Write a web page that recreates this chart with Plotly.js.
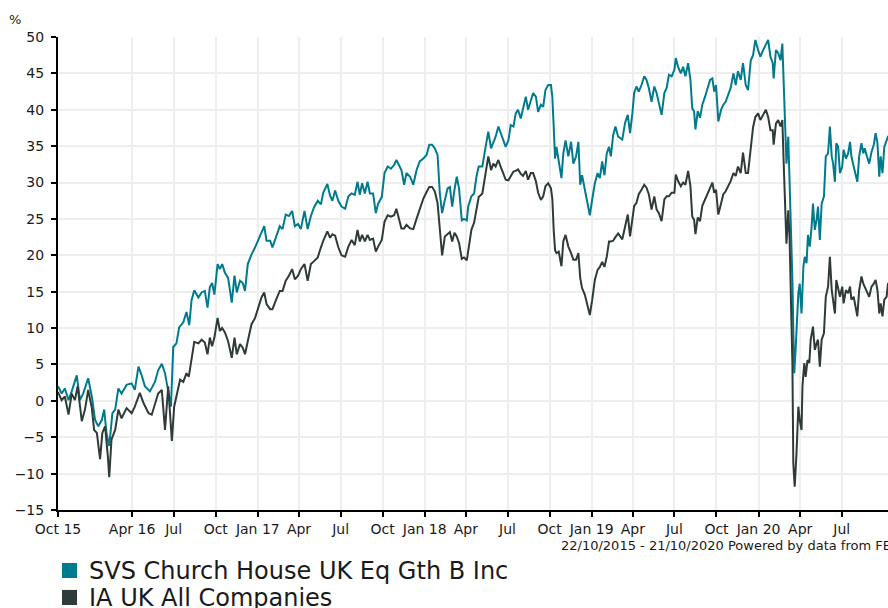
<!DOCTYPE html>
<html>
<head>
<meta charset="utf-8">
<script src="https://cdn.plot.ly/plotly-3.0.1.min.js"></script>
<style>
html, body { margin: 0; padding: 0; overflow: hidden; background: #ffffff; }
#chart { width: 900px; height: 608px; }
</style>
</head>
<body>
<div id="chart"></div>
<script>
// Period of the chart: 22/10/2015 - 21/10/2020, cumulative % growth
const startDate = "2015-10-22";
const endDate = "2020-10-21";

const fundName = "SVS Church House UK Eq Gth B Inc";
const sectorName = "IA UK All Companies";

// Days since 22/10/2015 and cumulative % performance
const fundDays = [0,8,15,23,30,41,48,55,66,74,81,88,96,101,106,112,119,125,132,139,150,161,168,176,183,190,201,212,219,227,234,241,247,252,259,265,274,281,287,292,298,307,
314,321,327,332,337,342,349,354,359,365,372,380,386,391,398,404,409,415,423,431,438,445,451,456,464,469,477,485,491,498,505,512,518,525,531,539,546,553,560,568,575,580,589,595,600,606,613,
620,628,635,642,649,655,660,665,671,677,682,689,695,700,708,714,721,728,735,740,746,751,757,762,770,777,784,791,799,806,812,818,824,830,835,840,846,852,857,862,867,872,877,883,888,894,897,904,910,915,920,
928,934,941,947,952,957,963,969,974,979,985,990,996,1001,1006,1012,1017,1023,1028,1034,1039,1045,1050,1056,1061,1066,1072,1078,1081,1084,1087,1090,1095,1101,1105,1110,1116,1122,1127,1133,1138,1142,1146,1152,1158,1163,1168,1174,1180,1185,1190,1195,1200,1205,1209,1214,1219,1225,
1234,1240,1246,1251,1256,1260,1265,1270,1276,1282,1287,1292,1298,1304,1309,1314,1320,1326,1331,1336,1342,1348,1351,1356,1362,1367,1372,1378,1383,1387,1391,1394,1399,1404,1409,1415,1420,1426,1431,1435,1439,1444,1450,1455,1460,1466,1471,1477,1482,1487,1493,1498,1504,1509,1515,1520,1525,1531,
1536,1542,1548,1553,1558,1563,1565,1570,1575,1580,1584,1586,1589,1593,1597,1600,1604,1606,1608,1610,1613,1616,1619,1622,1626,1630,1633,1637,1640,1644,1648,1651,1655,1659,1662,1666,1670,1675,1679,1684,1688,1692,1695,1699,1702,1706,1710,1715,1718,1723,1728,1732,1735,1740,1745,1748,1752,1757,1761,1764,1769,1774,1779,1784,1788,1792,1796,1799,1803,1807,1812,1815,1826];
const fundValues = [2.0,1.0,1.7,0.1,1.3,3.5,0.1,1.0,3.1,0.6,-2.6,-3.5,-2.6,-1.2,-4.4,-6.2,-1.7,-1.2,1.7,1.0,2.2,2.4,1.5,4.7,3.5,2.0,1.3,2.6,4.2,5.1,3.8,1.0,-0.8,7.4,7.9,10.1,10.8,12.2,10.4,13.8,15.2,14.2,
14.9,15.1,12.8,15.6,16.2,14.6,18.8,18.1,18.8,17.6,16.9,13.5,17.2,14.9,16.5,16.2,15.1,18.8,20.1,21.1,22.2,23.3,24.0,22.0,22.0,21.1,22.7,24.0,23.6,25.6,25.4,26.1,24.0,24.3,23.6,26.1,23.6,25.4,26.6,27.5,27.0,28.6,29.8,28.2,27.5,28.9,27.5,
26.7,26.4,28.1,28.5,28.3,30.1,28.3,29.9,28.5,30.1,28.5,28.5,25.8,27.1,28.0,31.3,32.2,31.9,32.4,33.1,32.2,31.7,29.7,31.3,30.8,29.7,31.7,32.9,33.3,33.8,35.2,35.2,34.7,33.8,28.5,25.8,27.6,29.2,29.4,26.7,29.0,30.8,29.2,24.8,25.0,24.8,26.7,28.1,28.5,30.8,32.2,
32.2,34.5,37.0,34.7,35.6,36.3,37.7,36.5,35.8,34.9,35.8,37.9,37.7,39.5,40.0,38.8,40.4,41.8,40.0,41.1,42.3,41.8,39.7,40.7,40.4,42.7,43.4,43.4,41.8,37.7,33.3,34.9,33.1,30.6,34.0,35.8,33.6,35.6,32.6,33.6,35.6,29.7,31.0,29.0,27.1,25.5,27.6,29.9,31.3,30.6,32.9,31.0,34.0,34.9,33.6,36.5,37.7,36.3,
35.9,38.2,39.3,36.8,39.5,42.3,43.2,42.5,43.4,44.6,44.1,43.0,41.1,43.2,42.3,40.7,39.3,42.3,43.0,44.8,44.6,45.5,47.1,45.9,45.0,45.9,44.6,46.4,44.1,40.2,39.8,37.3,39.8,38.9,40.7,41.8,43.0,44.1,44.3,42.5,43.4,38.4,40.0,40.7,41.1,42.1,43.0,45.0,43.4,45.3,44.1,46.4,43.4,42.7,46.8,47.5,49.6,48.2,
47.3,48.2,49.1,49.6,47.3,46.4,44.3,48.2,47.8,46.8,49.1,45.5,39.5,32.6,36.3,30.3,23.5,16.6,9.7,3.8,7.0,11.1,14.8,16.1,12.0,18.4,19.8,18.9,22.8,21.2,23.9,27.1,23.5,24.9,26.7,22.1,27.1,28.1,33.6,34.0,37.7,33.6,32.6,30.1,35.4,34.9,31.3,32.2,34.5,33.3,34.0,35.6,33.6,32.2,30.8,30.1,33.6,35.4,34.0,34.7,33.6,32.6,34.2,35.2,36.8,35.4,30.8,33.6,31.3,34.9,35.8,36.3,36.8];

const sectorDays = [0,8,15,23,30,37,43,52,59,66,74,79,85,88,92,97,103,109,112,117,125,132,139,150,161,168,179,187,198,205,212,219,227,234,241,249,254,259,267,274,281,286,292,298,307,
314,321,327,332,337,342,349,354,359,365,372,380,386,391,398,404,409,415,423,431,438,445,451,456,464,469,477,485,491,498,505,512,518,525,531,539,546,553,560,568,575,580,589,595,600,606,613,
620,628,635,642,649,655,660,665,671,677,682,689,695,700,708,714,721,728,735,740,746,751,757,762,770,777,784,791,799,806,812,818,824,830,835,840,846,852,857,862,867,872,877,883,888,894,897,904,910,915,920,
928,934,941,947,952,957,963,969,974,979,985,990,996,1001,1006,1012,1017,1023,1028,1034,1039,1045,1050,1056,1061,1066,1072,1078,1081,1084,1087,1090,1095,1101,1105,1110,1116,1122,1127,1133,1138,1142,1146,1152,1158,1163,1168,1174,1180,1185,1190,1195,1200,1205,1209,1214,1219,1225,
1234,1240,1246,1251,1256,1260,1265,1270,1276,1282,1287,1292,1298,1304,1309,1314,1320,1326,1331,1336,1342,1348,1351,1356,1362,1367,1372,1378,1383,1387,1391,1394,1399,1404,1409,1415,1420,1426,1431,1435,1439,1444,1450,1455,1460,1466,1471,1477,1482,1487,1493,1498,1504,1509,1515,1520,1525,1531,
1536,1542,1548,1553,1558,1563,1565,1570,1575,1580,1584,1587,1590,1593,1597,1600,1603,1606,1608,1611,1615,1619,1622,1626,1628,1632,1635,1639,1643,1646,1651,1655,1659,1662,1666,1670,1675,1679,1684,1688,1692,1695,1699,1702,1706,1710,1715,1718,1723,1728,1732,1735,1740,1745,1748,1752,1757,1761,1764,1769,1774,1779,1784,1788,1792,1796,1799,1803,1807,1812,1815,1826];
const sectorValues = [1.2,0.1,0.6,-1.9,1.0,0.1,2.0,-2.8,-1.2,1.5,-1.0,-4.0,-4.4,-6.2,-8.0,-4.4,-3.5,-7.6,-10.5,-5.3,-4.0,-1.2,-2.4,-1.0,-1.7,-0.8,1.1,-0.3,-1.7,-1.9,-0.3,1.0,1.5,-4.0,2.0,-5.5,-0.8,0.6,2.9,2.6,3.8,3.3,6.0,8.1,7.9,
8.4,8.0,6.4,8.7,7.5,8.7,11.4,9.6,10.0,9.4,8.2,5.9,8.7,6.4,7.8,7.3,6.4,8.2,10.5,11.4,12.8,14.2,14.9,13.3,12.6,12.6,13.9,15.1,15.1,16.5,17.2,18.1,16.7,17.2,18.1,18.8,16.5,18.8,19.2,19.7,21.1,22.0,23.3,22.4,22.9,22.7,21.1,
20.0,19.8,21.2,22.1,21.4,23.5,21.9,22.8,21.9,22.8,22.1,22.3,20.5,21.2,22.1,24.6,25.5,25.3,25.5,26.4,25.1,23.7,23.7,24.2,23.7,23.6,25.0,26.4,27.8,28.7,29.4,29.4,28.8,27.2,23.2,20.0,22.6,23.0,23.2,21.9,23.1,22.6,21.7,19.5,19.7,19.3,20.6,23.5,24.5,26.0,28.0,
28.5,31.0,33.6,31.7,32.6,32.2,33.1,32.0,31.3,30.4,30.3,30.9,31.5,31.6,31.8,31.2,30.9,31.6,30.4,31.3,31.3,30.2,28.6,27.6,28.1,29.5,29.9,29.2,27.8,23.5,20.7,20.3,20.5,18.5,21.9,22.8,21.2,20.3,19.4,19.4,20.3,16.9,15.5,14.6,13.2,11.8,13.8,16.6,18.0,18.4,19.1,18.4,19.8,21.9,21.9,22.0,22.5,23.0,
22.2,23.8,25.6,22.6,24.9,26.8,27.2,28.4,29.0,29.7,29.3,28.4,26.3,28.1,26.3,25.8,24.7,27.7,28.1,28.1,28.6,28.6,31.1,30.2,29.5,30.0,29.7,31.6,29.5,25.3,24.9,22.9,25.2,24.7,26.8,27.7,28.6,29.5,30.0,28.6,29.0,25.6,27.2,28.4,28.8,29.5,30.2,31.3,30.9,32.2,31.3,34.1,31.3,31.3,35.0,37.6,39.0,39.5,
38.6,39.3,40.0,39.0,37.2,37.2,35.2,38.1,38.6,37.7,38.6,32.6,25.3,21.6,26.2,22.1,13.4,5.2,-8.6,-11.8,-7.2,-0.8,-2.6,-4.0,2.0,5.2,3.3,5.6,5.2,8.4,10.2,7.0,7.9,8.4,4.7,8.4,9.3,14.3,15.7,19.8,15.2,13.4,12.0,16.6,15.2,14.3,15.7,13.4,15.2,14.8,15.7,13.9,14.3,12.9,11.6,15.2,17.1,16.1,15.7,15.2,14.3,15.7,16.1,16.6,15.2,12.0,13.4,11.6,13.9,14.3,16.1,16.6];

// Axis ticks
const xTickDates = ["2015-10-22","2016-04-01","2016-07-01","2016-10-01","2017-01-01","2017-04-01","2017-07-01","2017-10-01","2018-01-01","2018-04-01","2018-07-01","2018-10-01","2019-01-01","2019-04-01","2019-07-01","2019-10-01","2020-01-01","2020-04-01","2020-07-01"];
const xTickLabels = ["Oct 15","Apr 16","Jul","Oct","Jan 17","Apr","Jul","Oct","Jan 18","Apr","Jul","Oct","Jan 19","Apr","Jul","Oct","Jan 20","Apr","Jul"];
const yTickValues = [-15,-10,-5,0,5,10,15,20,25,30,35,40,45,50];

const footerText = "22/10/2015 - 21/10/2020 Powered by data from FE";

const fundColor = "#007b8d";
const sectorColor = "#2e3b38";

function toDates(days) {
  const t0 = Date.parse(startDate + "T00:00:00Z");
  return days.map(d => new Date(t0 + d * 86400000).toISOString().slice(0, 10));
}

const traces = [
  { x: toDates(fundDays), y: fundValues, type: "scatter", mode: "lines", name: fundName,
    line: { color: fundColor, width: 2 }, showlegend: false },
  { x: toDates(sectorDays), y: sectorValues, type: "scatter", mode: "lines", name: sectorName,
    line: { color: sectorColor, width: 2 }, showlegend: false }
];

const font = "DejaVu Sans, Verdana, sans-serif";

const layout = {
  width: 900, height: 608,
  margin: { l: 58, r: 7, t: 37, b: 98 },
  paper_bgcolor: "#ffffff", plot_bgcolor: "#ffffff",
  font: { family: font, size: 14, color: "#1a1a1a" },
  showlegend: false,
  xaxis: {
    type: "date", range: [startDate, endDate],
    tickmode: "array", tickvals: xTickDates, ticktext: xTickLabels,
    showgrid: true, gridcolor: "#eeeeee", gridwidth: 2,
    showline: true, linecolor: "#000000", linewidth: 2,
    ticks: "outside", ticklen: 5, tickwidth: 2, tickcolor: "#000000",
    tickfont: { family: font, size: 14, color: "#1a1a1a" },
    zeroline: false, fixedrange: true
  },
  yaxis: {
    range: [-15, 50], tickmode: "array", tickvals: yTickValues,
    showgrid: true, gridcolor: "#eeeeee", gridwidth: 2,
    showline: true, linecolor: "#000000", linewidth: 2,
    ticks: "outside", ticklen: 5, tickwidth: 2, tickcolor: "#000000",
    ticklabelstandoff: 4,
    tickfont: { family: font, size: 14, color: "#1a1a1a" },
    zeroline: false, fixedrange: true
  },
  shapes: [
    { type: "rect", xref: "paper", yref: "paper", x0: 0.0048, x1: 0.0228, y0: -0.112, y1: -0.1438,
      fillcolor: fundColor, line: { width: 0 } },
    { type: "rect", xref: "paper", yref: "paper", x0: 0.0048, x1: 0.0228, y0: -0.169, y1: -0.2008,
      fillcolor: sectorColor, line: { width: 0 } }
  ],
  annotations: [
    { text: "%", xref: "paper", yref: "paper", x: -0.0515, y: 1.036, xanchor: "center", yanchor: "middle",
      showarrow: false, font: { family: font, size: 13, color: "#1a1a1a" } },
    { text: footerText, xref: "paper", yref: "paper", x: 1, xshift: 0, y: -0.074, xanchor: "right", yanchor: "middle",
      showarrow: false, font: { family: font, size: 13, color: "#1a1a1a" } },
    { text: fundName, xref: "paper", yref: "paper", x: 0.0347, y: -0.129, xanchor: "left", yanchor: "middle",
      showarrow: false, font: { family: font, size: 24, color: "#1a1a1a" } },
    { text: sectorName, xref: "paper", yref: "paper", x: 0.0347, y: -0.185, xanchor: "left", yanchor: "middle",
      showarrow: false, font: { family: font, size: 24, color: "#1a1a1a" } }
  ]
};

Plotly.newPlot("chart", traces, layout, { staticPlot: true, displayModeBar: false });
</script>
</body>
</html>
